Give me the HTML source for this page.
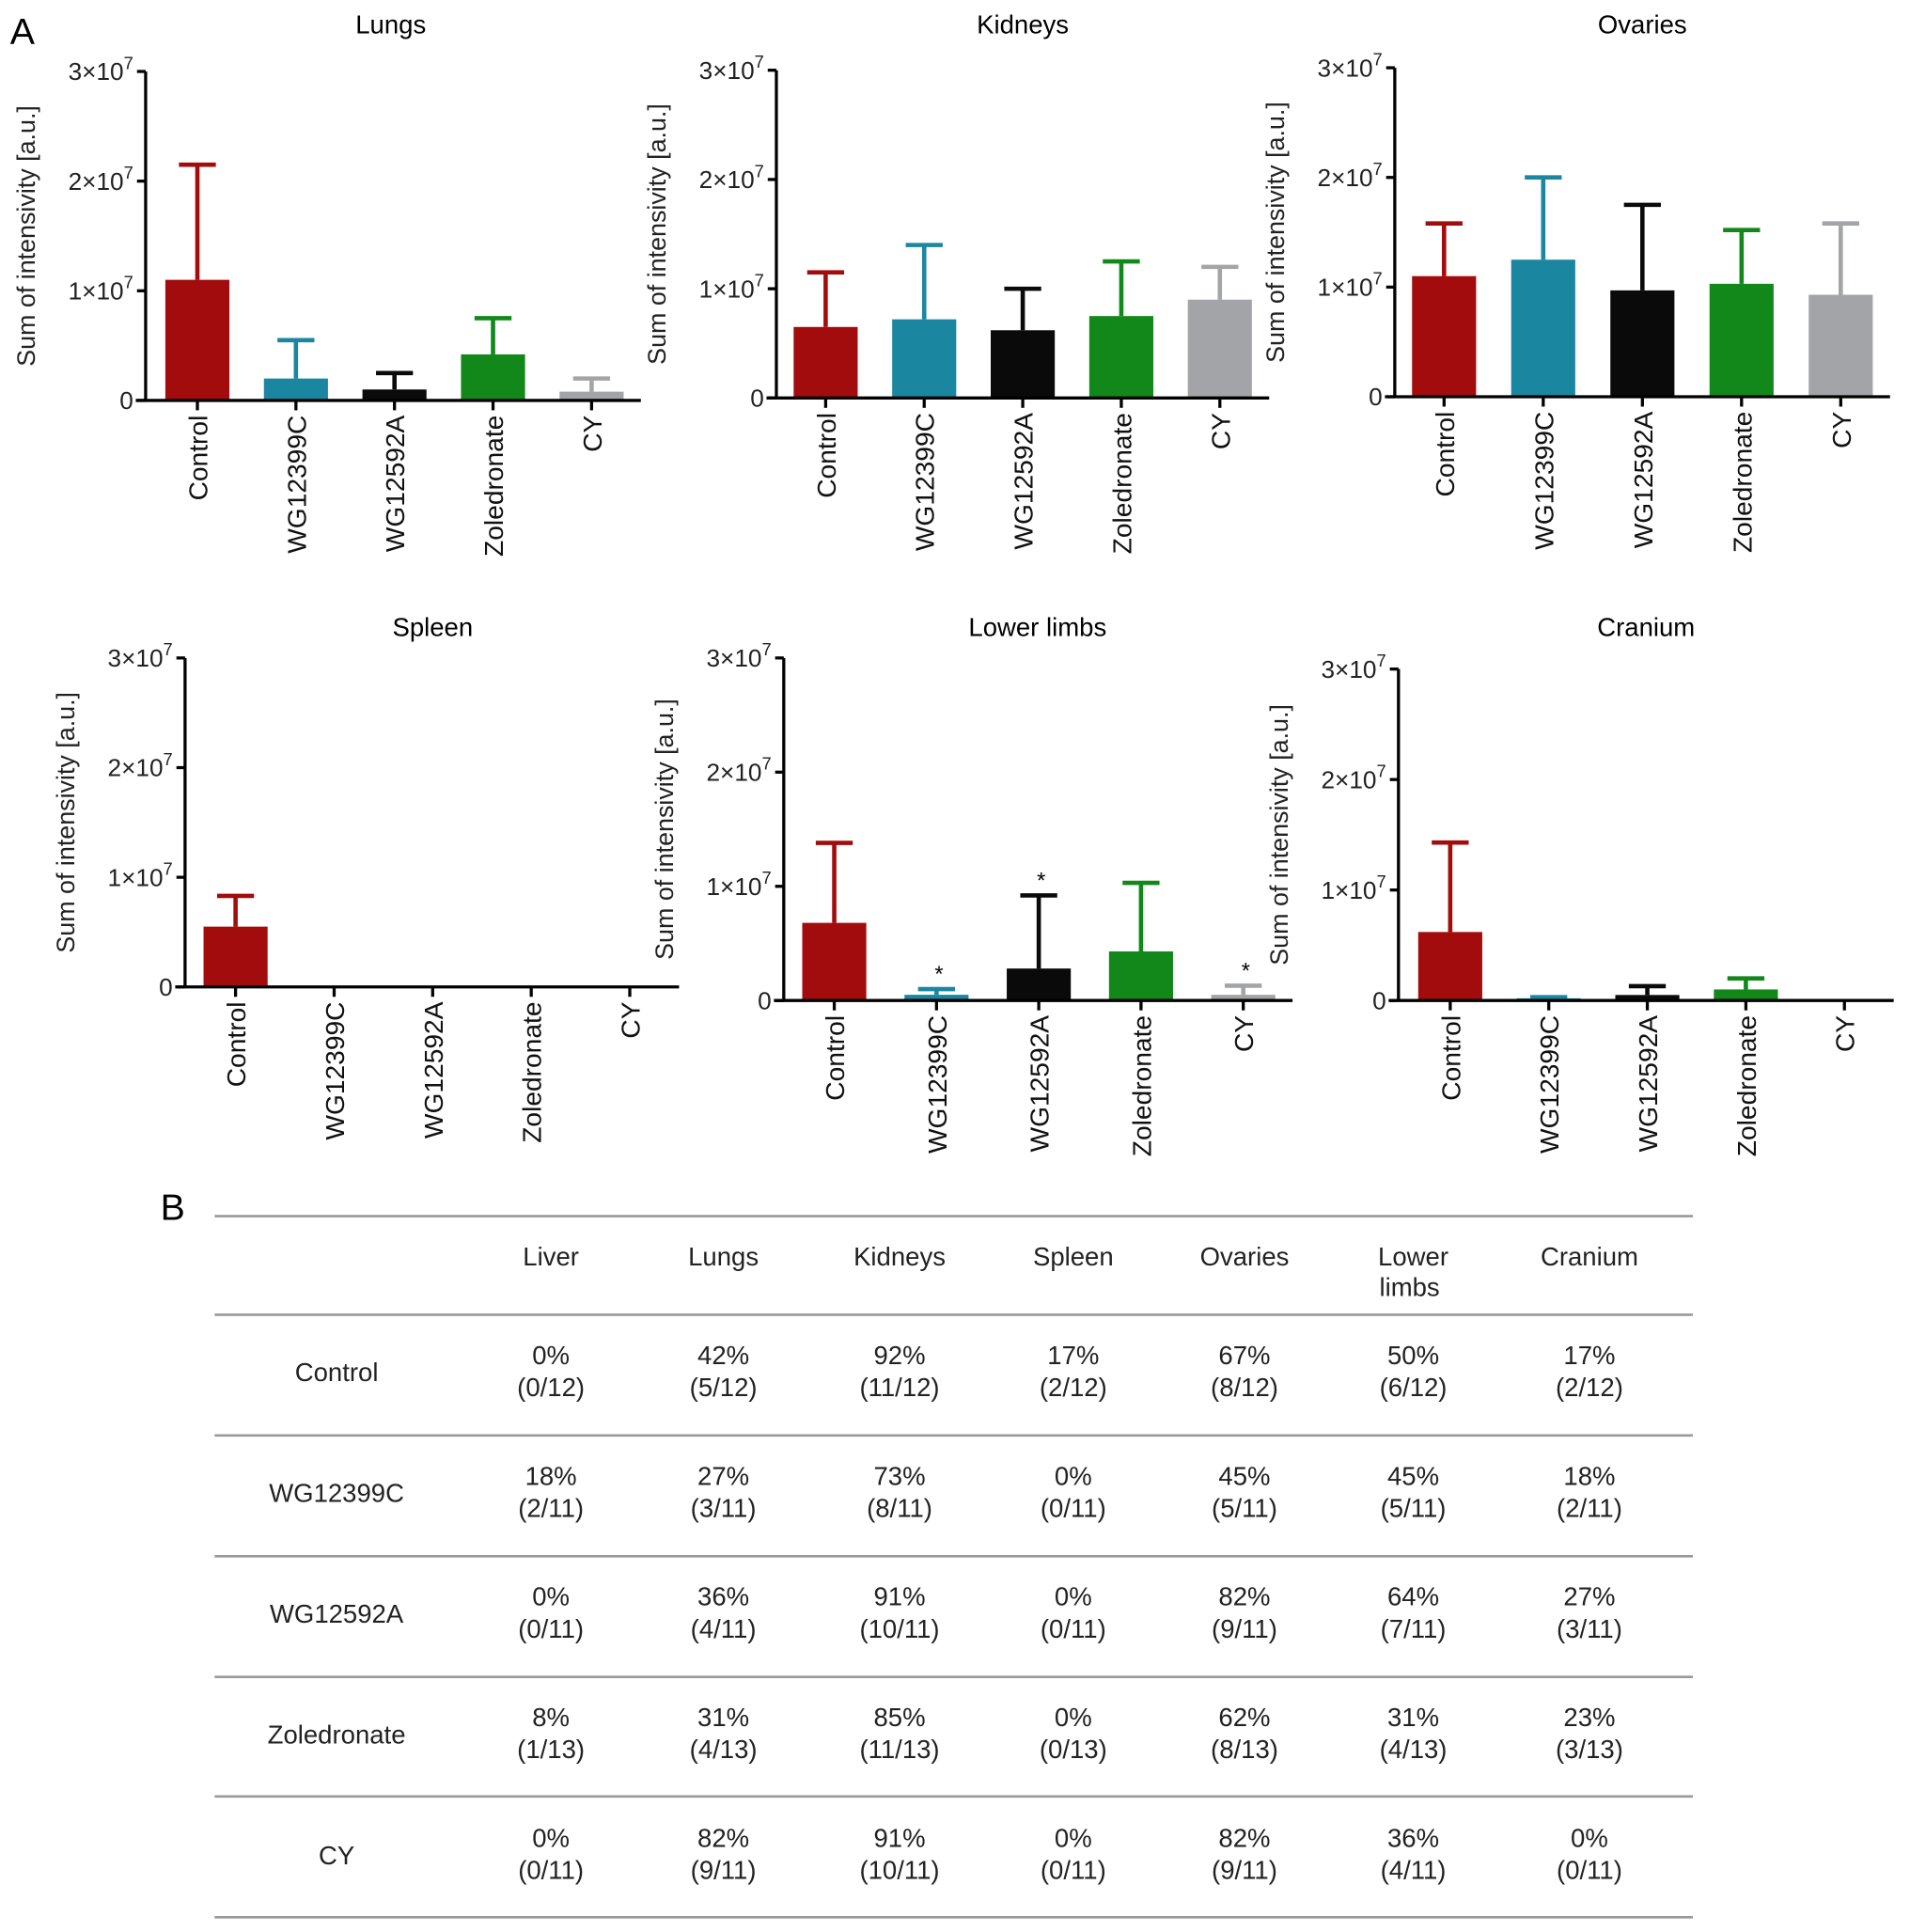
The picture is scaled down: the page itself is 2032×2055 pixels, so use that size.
<!DOCTYPE html>
<html><head><meta charset="utf-8"><style>
html,body{margin:0;padding:0;background:#fff;}
svg{display:block;font-family:"Liberation Sans",sans-serif;}
</style></head><body>
<svg id="fig" width="2032" height="2055" viewBox="0 0 1550 1568" xmlns="http://www.w3.org/2000/svg">
<text x="8" y="36" font-size="30">A</text>
<text x="130" y="990" font-size="30">B</text>
<g id="charts"></g>
<g id="table"></g>
</svg>
<script>
const categories = ["Control","WG12399C","WG12592A","Zoledronate","CY"];
const colors = ["#a20c0c","#1b86a0","#0a0a0a","#12871a","#a3a4a7"];
const organs = ["Lungs","Kidneys","Ovaries","Spleen","Lower limbs","Cranium"];
const lungsMean = [1.1,0.2,0.1,0.42,0.08];
const lungsErr = [2.15,0.55,0.25,0.75,0.2];
const kidneysMean = [0.65,0.72,0.62,0.75,0.9];
const kidneysErr = [1.15,1.4,1.0,1.25,1.2];
const ovariesMean = [1.1,1.25,0.97,1.03,0.93];
const ovariesErr = [1.58,2.0,1.75,1.52,1.58];
const spleenMean = [0.55,0,0,0,0];
const spleenErr = [0.83,0,0,0,0];
const limbsMean = [0.68,0.05,0.28,0.43,0.05];
const limbsErr = [1.38,0.1,0.92,1.03,0.13];
const craniumMean = [0.62,0.02,0.05,0.1,0];
const craniumErr = [1.43,0.03,0.13,0.2,0];
const limbsSig = [false,true,true,false,true];
const yTicks = [0,1,2,3];
const yTickLabels = ["0","1\u00d710","2\u00d710","3\u00d710"];

const means=[lungsMean,kidneysMean,ovariesMean,spleenMean,limbsMean,craniumMean];
const errs=[lungsErr,kidneysErr,ovariesErr,spleenErr,limbsErr,craniumErr];
const sigs=[null,null,null,null,limbsSig,null];
const layout=[
 {ax:118,top:58,zero:325,c0:160,step:80,tx:317,ty:27},
 {ax:630,top:57,zero:323,c0:670,step:80,tx:830,ty:27},
 {ax:1132,top:55,zero:322,c0:1172,step:80.5,tx:1333,ty:27},
 {ax:150,top:534,zero:801,c0:191,step:80,tx:351,ty:516},
 {ax:636,top:534,zero:812,c0:677,step:83,tx:842,ty:516},
 {ax:1135,top:543,zero:812,c0:1177,step:80,tx:1336,ty:516}];
const NS="http://www.w3.org/2000/svg";
function mk(p,t,a){const e=document.createElementNS(NS,t);for(const k in a)e.setAttribute(k,a[k]);p.appendChild(e);return e;}
const charts=document.getElementById('charts');
organs.forEach((org,i)=>{
 const L=layout[i];
 const g=mk(charts,'g',{});
 
 
 const y=v=>L.zero-(v/3)*(L.zero-L.top);
 const x=j=>L.c0+j*L.step;
 const right=x(4)+40;
 const t=mk(g,'text',{x:L.tx,y:L.ty,'font-size':21,'text-anchor':'middle'});t.textContent=org;
 
 const yt=mk(g,'text',{transform:`translate(${L.ax-90},${(L.top+L.zero)/2}) rotate(-90)`,'font-size':20.5,'text-anchor':'middle','fill':'#222'});
 yt.textContent='Sum of intensivity [a.u.]';
 
 yTicks.forEach((v,k)=>{
  mk(g,'line',{x1:L.ax-7,x2:L.ax,y1:y(v),y2:y(v),stroke:'#000','stroke-width':2.5});
  const tl=mk(g,'text',{x:L.ax-10,y:y(v)+7,'font-size':20,'text-anchor':'end',fill:'#222'});
  tl.textContent=yTickLabels[k];
  if(v>0){const s=mk(tl,'tspan',{dy:-9,'font-size':14});s.textContent='7';}
  
 });
 means[i].forEach((m,j)=>{
  const cx=x(j),e=errs[i][j],col=colors[j];
  if(e>0){
   mk(g,'line',{x1:cx,x2:cx,y1:y(m),y2:y(e),stroke:col,'stroke-width':3.5});
   mk(g,'line',{x1:cx-15,x2:cx+15,y1:y(e),y2:y(e),stroke:col,'stroke-width':3.5});
  }
  if(m>0){
   const b=mk(g,'rect',{x:cx-26,y:y(m),width:52,height:L.zero-y(m),fill:col});
   
   
  }
  if(sigs[i]&&sigs[i][j]){const s=mk(g,'text',{x:cx+2,y:y(e)-6,'font-size':18,'text-anchor':'middle'});s.textContent='*';}
  mk(g,'line',{x1:cx,x2:cx,y1:L.zero,y2:L.zero+8,stroke:'#000','stroke-width':2.5});
  const cl=mk(g,'text',{transform:`translate(${cx+8},${L.zero+12}) rotate(-90)`,'font-size':21.5,'text-anchor':'end',fill:'#111'});
  cl.textContent=categories[j];
  
 });
 mk(g,'line',{x1:L.ax,x2:L.ax,y1:L.top,y2:L.zero,stroke:'#000','stroke-width':2.5});
 mk(g,'line',{x1:L.ax-8,x2:right,y1:L.zero,y2:L.zero,stroke:'#000','stroke-width':2.5});
});

const colHeads=["Liver","Lungs","Kidneys","Spleen","Ovaries","Lower limbs","Cranium"];
const colX=[447,587,730,871,1010,1147,1290];
const rowNames=["Control","WG12399C","WG12592A","Zoledronate","CY"];
const pct=[["0%","42%","92%","17%","67%","50%","17%"],["18%","27%","73%","0%","45%","45%","18%"],["0%","36%","91%","0%","82%","64%","27%"],["8%","31%","85%","0%","62%","31%","23%"],["0%","82%","91%","0%","82%","36%","0%"]];
const frac=[["(0/12)","(5/12)","(11/12)","(2/12)","(8/12)","(6/12)","(2/12)"],["(2/11)","(3/11)","(8/11)","(0/11)","(5/11)","(5/11)","(2/11)"],["(0/11)","(4/11)","(10/11)","(0/11)","(9/11)","(7/11)","(3/11)"],["(1/13)","(4/13)","(11/13)","(0/13)","(8/13)","(4/13)","(3/13)"],["(0/11)","(9/11)","(10/11)","(0/11)","(9/11)","(4/11)","(0/11)"]];
const tb=document.getElementById('table');

[987,1067,1165,1263,1361,1458,1556].forEach(ly=>mk(tb,'line',{x1:174,x2:1374,y1:ly,y2:ly,stroke:'#999','stroke-width':2}));
colHeads.forEach((h,k)=>{
 const parts=h==="Lower limbs"?["Lower","limbs"]:[h];
 parts.forEach((p,q)=>{const t=mk(tb,'text',{x:colX[k]+(q===1?-3:0),y:1027+q*25,'font-size':21,'text-anchor':'middle',fill:'#222'});t.textContent=p;
 });
});
rowNames.forEach((r,i)=>{
 const base=1067+i*98;
 const t=mk(tb,'text',{x:273,y:base+54,'font-size':21,'text-anchor':'middle',fill:'#222'});t.textContent=r;
 
 colX.forEach((cx,k)=>{
  const a=mk(tb,'text',{x:cx,y:base+40,'font-size':21,'text-anchor':'middle',fill:'#222'});a.textContent=pct[i][k];
  
  const b=mk(tb,'text',{x:cx,y:base+66,'font-size':21,'text-anchor':'middle',fill:'#222'});b.textContent=frac[i][k];
  
 });
});
</script>
</body></html>
